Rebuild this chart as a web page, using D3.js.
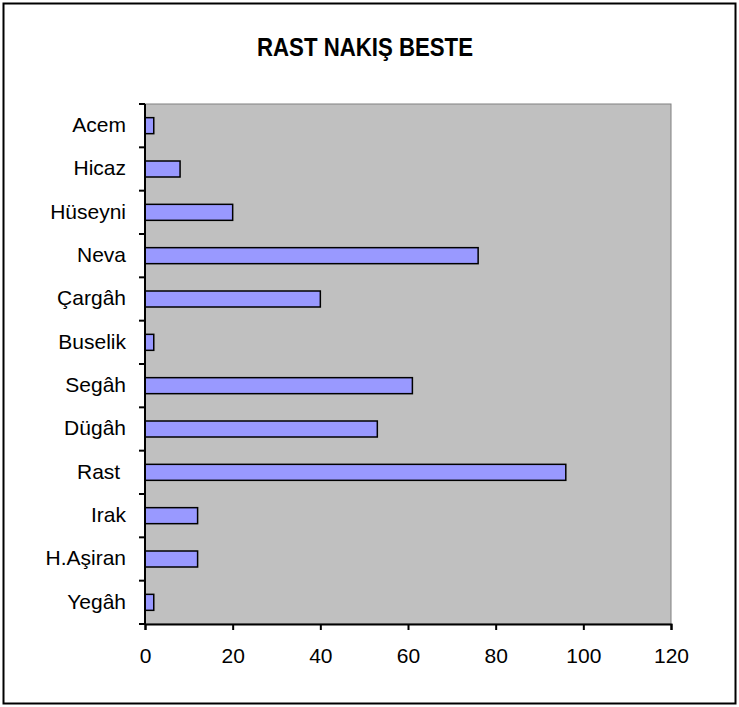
<!DOCTYPE html>
<html>
<head>
<meta charset="utf-8">
<style>
body { margin: 0; background: #fff; }
text { font-family: "Liberation Sans", Arial, sans-serif; }
</style>
</head>
<body>
<svg width="739" height="707"></svg>
<script src="https://cdn.jsdelivr.net/npm/d3@7"></script>
<script>

var categories = ["Acem", "Hicaz", "Hüseyni", "Neva", "Çargâh", "Buselik", "Segâh", "Dügâh", "Rast ", "Irak", "H.Aşiran", "Yegâh"];
var values = [2, 8, 20, 76, 40, 2, 61, 53, 96, 12, 12, 2];
var xTicks = [0, 20, 40, 60, 80, 100, 120];
var title = "RAST NAKIŞ BESTE";

var svg = d3.select("svg"),
    width = +svg.attr("width"),
    height = +svg.attr("height");

var margin = {top: 104, right: 68, bottom: 83, left: 145};

var x = d3.scaleLinear()
    .domain([0, 120])
    .range([margin.left, width - margin.right]);

var y = d3.scaleBand()
    .domain(categories)
    .range([margin.top, height - margin.bottom]);

// outer frame
svg.append("rect")
    .attr("x", 3.5).attr("y", 3.5)
    .attr("width", width - 7).attr("height", height - 7)
    .attr("fill", "#fff")
    .attr("stroke", "#000")
    .attr("stroke-width", 2);

svg.append("text")
    .attr("x", 365)
    .attr("y", 56)
    .attr("text-anchor", "middle")
    .attr("textLength", 216)
    .attr("lengthAdjust", "spacingAndGlyphs")
    .style("font-size", "25px")
    .style("font-weight", "bold")
    .text(title);

// plot area
svg.append("rect")
    .attr("x", x(0)).attr("y", margin.top)
    .attr("width", x(120) - x(0))
    .attr("height", height - margin.bottom - margin.top)
    .attr("fill", "#c0c0c0")
    .attr("stroke", "#808080")
    .attr("stroke-width", 1);

var barH = 16;

svg.append("g")
  .selectAll("rect")
  .data(values)
  .enter().append("rect")
    .attr("x", x(0))
    .attr("y", function(d, i) { return y(categories[i]) + y.bandwidth() / 2 - barH / 2; })
    .attr("width", function(d) { return x(d) - x(0); })
    .attr("height", barH)
    .attr("fill", "#9999ff")
    .attr("stroke", "#000")
    .attr("stroke-width", 1.5);

// y axis
var yAxis = svg.append("g");
yAxis.append("line")
    .attr("x1", x(0)).attr("x2", x(0))
    .attr("y1", margin.top).attr("y2", height - margin.bottom)
    .attr("stroke", "#000").attr("stroke-width", 2);
yAxis.selectAll(".tick")
  .data(categories.concat([null]))
  .enter().append("line")
    .attr("x1", x(0) - 6).attr("x2", x(0))
    .attr("y1", function(d, i) { return margin.top + i * y.step(); })
    .attr("y2", function(d, i) { return margin.top + i * y.step(); })
    .attr("stroke", "#000").attr("stroke-width", 2);
yAxis.selectAll("text")
  .data(categories)
  .enter().append("text")
    .attr("x", 126)
    .attr("y", function(d) { return y(d) + y.bandwidth() / 2; })
    .attr("dy", "0.3em")
    .attr("text-anchor", "end")
    .style("font-size", "21px")
    .style("white-space", "pre")
    .text(function(d) { return d; });

// x axis
var xAxis = svg.append("g")
    .attr("transform", "translate(0," + (height - margin.bottom) + ")")
    .call(d3.axisBottom(x).tickValues(xTicks).tickSize(6).tickPadding(18));
xAxis.select(".domain").attr("stroke", "#000").attr("stroke-width", 2);
xAxis.selectAll(".tick line").attr("stroke", "#000").attr("stroke-width", 2);
xAxis.selectAll(".tick text")
    .style("font-family", "'Liberation Sans', Arial, sans-serif")
    .style("font-size", "21px")
    .attr("fill", "#000");

</script>
</body>
</html>
